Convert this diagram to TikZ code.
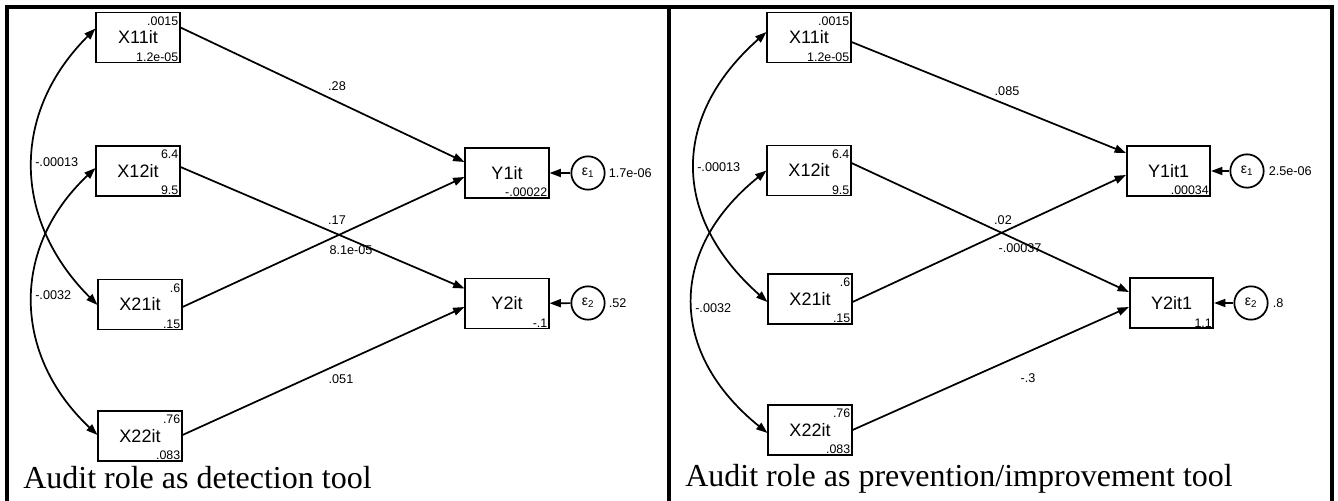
\documentclass[tikz,border=0pt]{standalone}
\usepackage{fontspec}
\setmainfont{Liberation Sans}
\newfontfamily\capfont{Liberation Serif}
\usetikzlibrary{arrows.meta,calc}
\tikzset{
  obs/.style={draw, line width=1.3pt, minimum width=62.5pt, minimum height=37.5pt, inner sep=0pt, font=\fontsize{13.5}{13.5}\selectfont},
  err/.style={draw, circle, line width=1.3pt, minimum size=25pt, inner sep=0pt, font=\fontsize{10.5}{10.5}\selectfont},
  num/.style={font=\fontsize{9.3}{9.3}\selectfont, inner xsep=1.5pt, inner ysep=1.5pt},
  numtop/.style={num, inner ysep=3.5pt, anchor=north east},
  numbot/.style={num, inner ysep=1.2pt, anchor=south east},
  coef/.style={font=\fontsize{9.5}{9.5}\selectfont, inner sep=0pt},
  arr/.style={line width=1.3pt, -{Triangle[length=8.5pt,width=6pt]}},
  cov/.style={line width=1.3pt, {Triangle[length=8.5pt,width=6pt]}-{Triangle[length=8.5pt,width=6pt]}},
  panel/.style={line width=2.3pt},
  captxt/.style={font=\capfont\fontsize{24}{24}\selectfont, inner sep=0pt, anchor=base west}
}
\begin{document}
\begin{tikzpicture}[x=0.75pt,y=-0.75pt]
\useasboundingbox (0,0) rectangle (1338,500);
% panels
\draw[panel] (7,503) -- (7,7) -- (1332,7) -- (1332,503);
\draw[panel] (669,7) -- (669,503);

% ===== Left panel =====
\node[obs] (LX11) at (138,37.5) {X11it};
\node[obs] (LX12) at (138,171) {X12it};
\node[obs] (LX21) at (140,304.5) {X21it};
\node[obs] (LX22) at (140,436) {X22it};
\node[obs] (LY1) at (507,173) {Y1it};
\node[obs] (LY2) at (507,303.5) {Y2it};
\node[err] (Le1) at (588,173) {ε\textsubscript{1}};
\node[err] (Le2) at (588,303) {ε\textsubscript{2}};

\node[numtop] (LX11m) at (LX11.north east) {.0015};
\node[numbot] (LX11v) at (LX11.south east) {1.2e-05};
\node[numtop] (LX12m) at (LX12.north east) {6.4};
\node[numbot] (LX12v) at (LX12.south east) {9.5};
\node[numtop] (LX21m) at (LX21.north east) {.6};
\node[numbot] (LX21v) at (LX21.south east) {.15};
\node[numtop] (LX22m) at (LX22.north east) {.76};
\node[numbot] (LX22v) at (LX22.south east) {.083};
\node[numbot] (LY1c) at (LY1.south east) {-.00022};
\node[numbot] (LY2c) at (LY2.south east) {-.1};
\node[coef, anchor=west] (Le1v) at ($(Le1.east)+(3,0)$) {1.7e-06};
\node[coef, anchor=west] (Le2v) at ($(Le2.east)+(3,0)$) {.52};

\draw[arr] ($(LX11.east)+(0,-10)$) -- ($(LY1.west)+(0,-11)$);
\draw[arr] ($(LX12.east)+(0,-4)$) -- ($(LY2.west)+(0,-15)$);
\draw[arr] ($(LX21.east)+(0,2.5)$) -- ($(LY1.west)+(0,4)$);
\draw[arr] ($(LX22.east)+(0,-1)$) -- ($(LY2.west)+(0,3.5)$);
\draw[arr] (Le1) -- (LY1);
\draw[arr] (Le2) -- (LY2);
\draw[cov] ($(LX11.west)+(0,-9)$) .. controls +(-85,85) and +(-85,-85) .. ($(LX21.west)+(0,0.5)$);
\draw[cov] ($(LX12.west)+(0,-3)$) .. controls +(-85,80) and +(-85,-80) .. ($(LX22.west)+(0,-1)$);

\node[coef] (Lp1) at (337,86) {.28};
\node[coef] (Lp2) at (337,220) {.17};
\node[coef] (Lp3) at (351,250) {8.1e-05};
\node[coef] (Lp4) at (341,379) {.051};
\node[coef, anchor=west] (Lc1) at (35,162) {-.00013};
\node[coef, anchor=west] (Lc2) at (35,295) {-.0032};

\node[captxt] (Lcap) at (23,488) {Audit role as detection tool};

% ===== Right panel =====
\node[obs] (RX11) at (809,37.5) {X11it};
\node[obs] (RX12) at (809,170.5) {X12it};
\node[obs] (RX21) at (810,299) {X21it};
\node[obs] (RX22) at (810,430) {X22it};
\node[obs] (RY1) at (1168.5,171) {Y1it1};
\node[obs] (RY2) at (1171.5,303) {Y2it1};
\node[err] (Re1) at (1247,171) {ε\textsubscript{1}};
\node[err] (Re2) at (1251,303) {ε\textsubscript{2}};

\node[numtop] (RX11m) at (RX11.north east) {.0015};
\node[numbot] (RX11v) at (RX11.south east) {1.2e-05};
\node[numtop] (RX12m) at (RX12.north east) {6.4};
\node[numbot] (RX12v) at (RX12.south east) {9.5};
\node[numtop] (RX21m) at (RX21.north east) {.6};
\node[numbot] (RX21v) at (RX21.south east) {.15};
\node[numtop] (RX22m) at (RX22.north east) {.76};
\node[numbot] (RX22v) at (RX22.south east) {.083};
\node[numbot] (RY1c) at (RY1.south east) {.00034};
\node[numbot] (RY2c) at (RY2.south east) {1.1};
\node[coef, anchor=west] (Re1v) at ($(Re1.east)+(4,0)$) {2.5e-06};
\node[coef, anchor=west] (Re2v) at ($(Re2.east)+(4,0)$) {.8};

\draw[arr] ($(RX11.east)+(0,4.5)$) -- ($(RY1.west)+(0,-18)$);
\draw[arr] ($(RX12.east)+(0,-7.5)$) -- ($(RY2.west)+(0,-11)$);
\draw[arr] ($(RX21.east)+(0,3)$) -- ($(RY1.west)+(0,4)$);
\draw[arr] ($(RX22.east)+(0,0)$) -- ($(RY2.west)+(0,4)$);
\draw[arr] (Re1) -- (RY1);
\draw[arr] (Re2) -- (RY2);
\draw[cov] ($(RX11.west)+(0,-5.5)$) .. controls +(-96,85) and +(-96,-85) .. ($(RX21.west)+(0,3)$);
\draw[cov] ($(RX12.west)+(0,0)$) .. controls +(-99,80) and +(-99,-80) .. ($(RX22.west)+(0,3)$);

\node[coef] (Rp1) at (1007,91) {.085};
\node[coef] (Rp2) at (1003,220) {.02};
\node[coef] (Rp3) at (1020,248) {-.00037};
\node[coef] (Rp4) at (1028,378) {-.3};
\node[coef, anchor=west] (Rc1) at (697,167) {-.00013};
\node[coef, anchor=west] (Rc2) at (695,308) {-.0032};

\node[captxt] (Rcap) at (685,486) {Audit role as prevention/improvement tool};
\end{tikzpicture}
\end{document}
